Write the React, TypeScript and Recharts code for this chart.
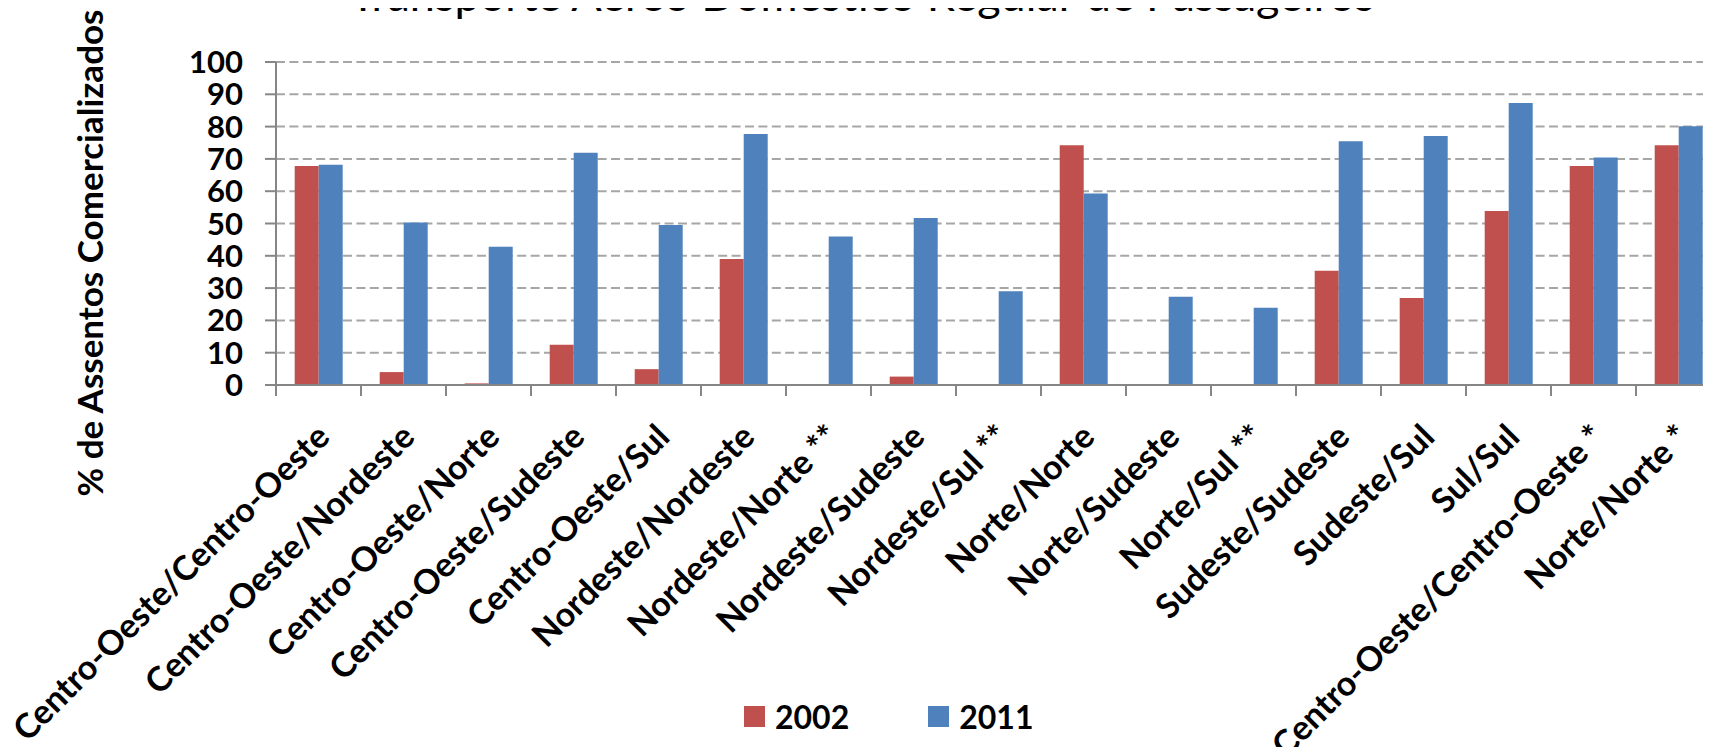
import { BarChart, Bar, XAxis, YAxis, CartesianGrid, Legend } from "recharts";

// Valores (% de assentos comercializados)
const categories = [
  "Centro-Oeste/Centro-Oeste",
  "Centro-Oeste/Nordeste",
  "Centro-Oeste/Norte",
  "Centro-Oeste/Sudeste",
  "Centro-Oeste/Sul",
  "Nordeste/Nordeste",
  "Nordeste/Norte **",
  "Nordeste/Sudeste",
  "Nordeste/Sul **",
  "Norte/Norte",
  "Norte/Sudeste",
  "Norte/Sul **",
  "Sudeste/Sudeste",
  "Sudeste/Sul",
  "Sul/Sul",
  "Centro-Oeste/Centro-Oeste *",
  "Norte/Norte *",
];

const values2002 = [67.8, 4.0, 0.5, 12.5, 4.9, 39.0, 0, 2.6, 0, 74.2, 0, 0, 35.4, 26.9, 53.9, 67.8, 74.2];
const values2011 = [68.2, 50.3, 42.8, 71.9, 49.5, 77.7, 46.0, 51.7, 29.0, 59.3, 27.3, 23.9, 75.5, 77.1, 87.3, 70.4, 80.1];

const yTicks = [0, 10, 20, 30, 40, 50, 60, 70, 80, 90, 100];

const title = "Transporte Aéreo Doméstico Regular de Passageiros";
const yLabel = "% de Assentos Comercializados";

const data = categories.map((name, i) => ({
  name,
  y2002: values2002[i],
  y2011: values2011[i],
}));

const FONT = "Lato, 'Open Sans', sans-serif";
const AXIS = "#868686";

const CategoryTick = (props: any) => {
  const { x, y, payload } = props;
  const half = payload && payload.offset ? payload.offset : 42.5;
  const tx = x + 13;
  const ty = y + 54;
  return (
    <g>
      <line x1={x - half} y1={y} x2={x - half} y2={y + 11} stroke={AXIS} strokeWidth={2} />
      <text
        x={tx}
        y={ty}
        transform={`rotate(-45, ${tx}, ${ty})`}
        textAnchor="end"
        fontFamily={FONT}
        fontWeight={700}
        fontSize={34}
        fill="#000"
      >
        {payload.value}
      </text>
    </g>
  );
};

const LegendContent = (props: any) => {
  const items = props.payload || [];
  return (
    <div style={{ display: "flex", alignItems: "center", fontFamily: FONT, fontWeight: 700, fontSize: 32, color: "#000" }}>
      {items.map((item: any, i: number) => (
        <div key={item.value} style={{ display: "flex", alignItems: "center", marginRight: i === 0 ? 79 : 0 }}>
          <span style={{ display: "inline-block", width: 21, height: 21, background: item.color, marginRight: 10 }} />
          <span>{item.value}</span>
        </div>
      ))}
    </div>
  );
};

export default function App() {
  return (
    <div style={{ position: "relative", width: 1711, height: 755, margin: -8, overflow: "hidden", background: "#fff" }}>
      <svg width={1711} height={40} style={{ position: "absolute", left: 0, top: 0 }}>
        <text x={862} y={11} textAnchor="middle" fontFamily={FONT} fontSize={45} fill="#000">
          {title}
        </text>
      </svg>
      <BarChart
        width={1730}
        height={755}
        data={data}
        margin={{ top: 62, right: 9, bottom: 0, left: 0 }}
        barCategoryGap="22%"
        barGap={0}
      >
        <CartesianGrid vertical={false} stroke="#A6A6A6" strokeWidth={2} strokeDasharray="9 4.4" />
        <XAxis
          dataKey="name"
          interval={0}
          height={370}
          stroke={AXIS}
          strokeWidth={2}
          tickLine={false}
          tickSize={0}
          tickMargin={0}
          tick={<CategoryTick />}
        />
        <YAxis
          width={276}
          domain={[0, 100]}
          ticks={yTicks}
          interval={0}
          stroke={AXIS}
          strokeWidth={2}
          tickSize={11}
          tickMargin={22}
          tickLine={{ stroke: AXIS, strokeWidth: 2 }}
          tick={{ fontSize: 31, fontWeight: 700, fill: "#000", fontFamily: FONT }}
          label={{
            content: () => (
              <text
                x={103}
                y={253}
                transform="rotate(-90, 103, 253)"
                textAnchor="middle"
                fontFamily={FONT}
                fontWeight={700}
                fontSize={35}
                fill="#000"
              >
                {yLabel}
              </text>
            ),
          }}
        />
        <Legend
          layout="vertical"
          verticalAlign="middle"
          align="center"
          content={<LegendContent />}
          wrapperStyle={{ left: 744, top: 697, width: "auto" }}
        />
        <Bar dataKey="y2002" name="2002" fill="#C0504D" isAnimationActive={false} />
        <Bar dataKey="y2011" name="2011" fill="#4F81BD" isAnimationActive={false} />
      </BarChart>
    </div>
  );
}
